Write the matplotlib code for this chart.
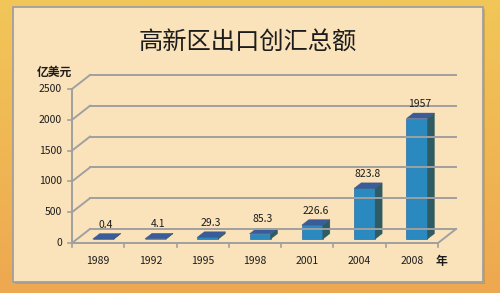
import numpy as np
import matplotlib.pyplot as plt
from matplotlib.patches import Polygon, Rectangle

plt.rcParams['font.family'] = ['Noto Sans CJK SC', 'DejaVu Sans']

years = ['1989', '1992', '1995', '1998', '2001', '2004', '2008']
values = [0.4, 4.1, 29.3, 85.3, 226.6, 823.8, 1957]
value_labels = ['0.4', '4.1', '29.3', '85.3', '226.6', '823.8', '1957']
y_ticks = [0, 500, 1000, 1500, 2000, 2500]

W, H = 500, 293
fig = plt.figure(figsize=(5, 2.93), dpi=100)

# fond orange + panneau
bg = fig.add_axes([0, 0, 1, 1])
bg.set_xlim(0, W)
bg.set_ylim(H, 0)
bg.axis('off')
g = np.linspace(0, 1, 100)[:, None, None]
top_c = np.array([242, 198, 88]) / 255
bot_c = np.array([238, 168, 80]) / 255
bg.imshow(top_c + (bot_c - top_c) * g * np.ones((1, 2, 1)), extent=[0, W, H, 0], aspect='auto')
bg.add_patch(Rectangle((15, 9), 470, 275, fc='#B08A50', ec='none', alpha=0.5))
bg.add_patch(Rectangle((13, 7), 470, 275, fc='#FAE3BA', ec='#A0A0A0', lw=1.3))

txt = '#1c1c1c'
bg.text(248, 42, '高新区出口创汇总额', ha='center', va='center', fontsize=17.5, color=txt)
bg.text(54, 72, '亿美元', ha='center', va='center', fontsize=8.5, fontweight='bold', color=txt)
bg.text(441, 262, '年', ha='center', va='center', fontsize=8.5, fontweight='bold', color=txt)

# plan avant du graphique
x0, x1, y0, y1 = 72, 438, 243, 89
ax = fig.add_axes([x0 / W, (H - y0) / H, (x1 - x0) / W, (y0 - y1) / H])
ax.set_xlim(-0.5, 6.5)
ax.set_ylim(0, 2500)
ax.axis('off')
sx = 7 / (x1 - x0)
sy = 2500 / (y0 - y1)
DX, DY = 18, 14  # profondeur en pixels


def sh(x, y, d):
    return x + DX * d * sx, y + DY * d * sy


grid_c = '#A0A0A0'
for t in y_ticks:
    ax.plot(*zip(sh(-0.5, t, 0), sh(-0.5, t, 1)), color=grid_c, lw=1.4, clip_on=False)
    ax.plot(*zip(sh(-0.5, t, 1), sh(6.5, t, 1)), color=grid_c, lw=1.4, clip_on=False)
    ax.plot([-0.5 - 4 * sx, -0.5], [t, t], color=grid_c, lw=1.2, clip_on=False)
    ax.text(-0.5 - 10 * sx, t, str(t), ha='right', va='center', fontsize=7.5, color=txt)
ax.plot(*zip(sh(6.5, 0, 0), sh(6.5, 0, 1)), color=grid_c, lw=1.4, clip_on=False)
ax.plot([-0.5, 6.5], [0, 0], color=grid_c, lw=1.4, clip_on=False)
ax.plot([-0.5, -0.5], [0, 2500], color=grid_c, lw=1.4, clip_on=False)
for b in np.arange(-0.5, 7, 1):
    ax.plot([b, b], [0, -4 * sy], color=grid_c, lw=1.2, clip_on=False)

d0, d1 = 0.28, 0.67
w = 21 * sx
for i, (v, lab) in enumerate(zip(values, value_labels)):
    l, r = i - w / 2, i + w / 2
    fx, fy = sh(l, 0, d0)
    ax.add_patch(Rectangle((fx, fy), w, v, fc='#2A8AC0', ec='#2A70A2', lw=0.5, clip_on=False))
    ax.add_patch(Polygon([sh(r, 0, d0), sh(r, v, d0), sh(r, v, d1), sh(r, 0, d1)],
                         fc='#2F5B62', ec='#2F5B62', lw=0.3, clip_on=False))
    ax.add_patch(Polygon([sh(l, v, d0), sh(r, v, d0), sh(r, v, d1), sh(l, v, d1)],
                         fc='#3A5D99', ec='#34548A', lw=0.3, clip_on=False))
    lx, ly = sh(i, v, 0.45)
    ax.text(lx, ly + 12 * sy, lab, ha='center', va='center', fontsize=7.5, color=txt)
    ax.text(i, -18 * sy, years[i], ha='center', va='center', fontsize=7.5, color=txt)

fig.savefig('out.png', dpi=100)
